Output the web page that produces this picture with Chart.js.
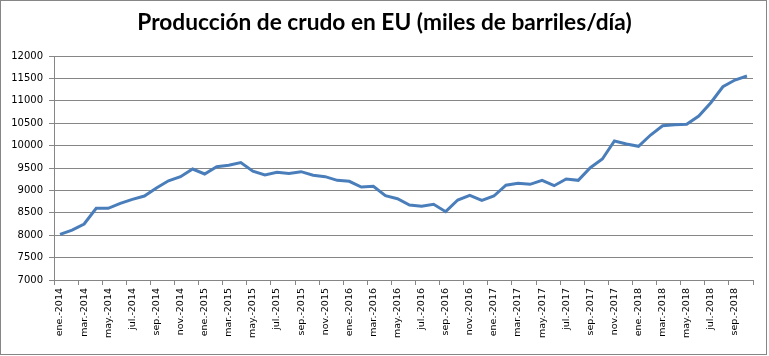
<!DOCTYPE html>
<html>
<head>
<meta charset="utf-8">
<script src="https://cdn.jsdelivr.net/npm/chart.js@4/dist/chart.umd.min.js"></script>
<style>
html,body{margin:0;padding:0;background:#fff;}
canvas{display:block;}
</style>
</head>
<body>
<canvas id="c" width="769" height="356"></canvas>
<script>
const titleText = 'Producción de crudo en EU (miles de barriles/día)';
const categories = [
 'ene.-2014','feb.-2014','mar.-2014','abr.-2014','may.-2014','jun.-2014','jul.-2014','ago.-2014','sep.-2014','oct.-2014','nov.-2014','dic.-2014',
 'ene.-2015','feb.-2015','mar.-2015','abr.-2015','may.-2015','jun.-2015','jul.-2015','ago.-2015','sep.-2015','oct.-2015','nov.-2015','dic.-2015',
 'ene.-2016','feb.-2016','mar.-2016','abr.-2016','may.-2016','jun.-2016','jul.-2016','ago.-2016','sep.-2016','oct.-2016','nov.-2016','dic.-2016',
 'ene.-2017','feb.-2017','mar.-2017','abr.-2017','may.-2017','jun.-2017','jul.-2017','ago.-2017','sep.-2017','oct.-2017','nov.-2017','dic.-2017',
 'ene.-2018','feb.-2018','mar.-2018','abr.-2018','may.-2018','jun.-2018','jul.-2018','ago.-2018','sep.-2018','oct.-2018'
];
const production = [
 8020, 8115, 8250, 8600, 8600, 8710, 8800, 8875, 9055, 9215, 9305, 9477,
 9366, 9530, 9560, 9620, 9430, 9344, 9404, 9380, 9418, 9337, 9307, 9225,
 9203, 9076, 9092, 8882, 8815, 8674, 8644, 8690, 8525, 8786, 8890, 8779,
 8875, 9115, 9158, 9136, 9225, 9105, 9254, 9225, 9507, 9700, 10102, 10035,
 9984, 10236, 10444, 10466, 10475, 10660, 10957, 11314, 11464, 11553
];
const yMin = 7000, yMax = 12000, yStep = 500;

const frame = {
  id: 'frame',
  beforeDraw(chart) {
    const ctx = chart.ctx;
    ctx.save();
    ctx.fillStyle = '#fff';
    ctx.fillRect(0, 0, chart.width, chart.height);
    ctx.restore();
  },
  afterDraw(chart) {
    const ctx = chart.ctx;
    ctx.save();
    ctx.strokeStyle = '#868686';
    ctx.lineWidth = 1;
    ctx.strokeRect(0.5, 0.5, 766, 354);
    ctx.restore();
  }
};

new Chart(document.getElementById('c'), {
  type: 'line',
  data: {
    labels: categories,
    datasets: [{
      data: production,
      borderColor: '#4a7ebb',
      borderWidth: 3,
      pointRadius: 0,
      tension: 0,
      fill: false
    }]
  },
  options: {
    responsive: false,
    animation: false,
    layout: { padding: { left: 0, right: 0, top: 0, bottom: 0 } },
    plugins: {
      legend: { display: false },
      tooltip: { enabled: false },
      title: {
        display: true,
        text: titleText,
        color: '#000',
        font: { family: 'Lato', size: 22.7, weight: 'bold', lineHeight: 1.2 },
        padding: { top: 9.5, bottom: 19.26 }
      }
    },
    scales: {
      x: {
        type: 'category',
        offset: true,
        afterFit(s) { s.height = 76; s.paddingRight = 16; },
        border: { display: true, color: '#868686', width: 1 },
        grid: {
          offset: true,
          drawOnChartArea: false,
          drawTicks: true,
          tickLength: 5,
          color(ctx) {
            if (ctx.type !== 'tick') return '#868686';
            return ctx.index % 2 === 0 ? '#868686' : 'rgba(0,0,0,0)';
          }
        },
        ticks: {
          autoSkip: false,
          minRotation: 90,
          maxRotation: 90,
          padding: 3,
          color: '#000',
          font: { family: "'DejaVu Sans', Verdana, sans-serif", size: 9.5 },
          callback(v, i) { return i % 2 === 0 ? categories[i] : ''; }
        }
      },
      y: {
        min: yMin,
        max: yMax,
        afterFit(s) { s.width = 54; },
        border: { display: true, color: '#868686', width: 1 },
        grid: {
          color: '#868686',
          lineWidth: 1,
          drawTicks: true,
          tickLength: 5
        },
        ticks: {
          stepSize: yStep,
          padding: 6,
          color: '#000',
          font: { family: "'DejaVu Sans', Verdana, sans-serif", size: 10 },
          callback(v) { return String(v); }
        }
      }
    }
  },
  plugins: [frame]
});
</script>
</body>
</html>
